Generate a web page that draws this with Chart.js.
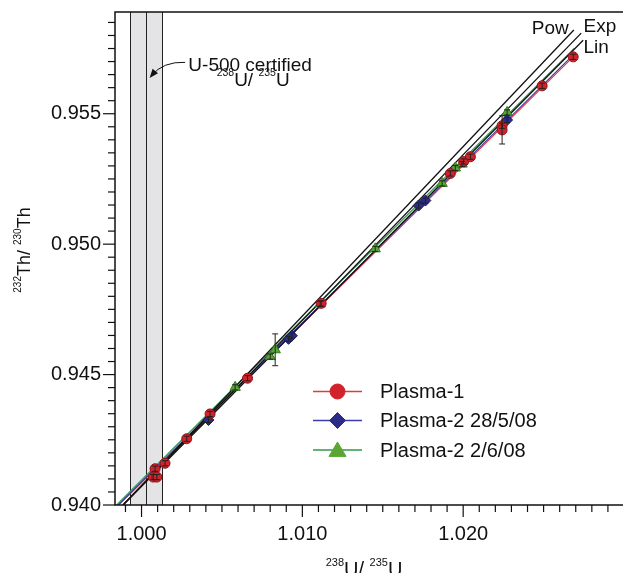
<!DOCTYPE html>
<html>
<head>
<meta charset="utf-8">
<script src="https://cdn.jsdelivr.net/npm/chart.js@4/dist/chart.umd.min.js"></script>
<style>
  html, body { margin: 0; padding: 0; background: #fff; overflow: hidden; }
  #wrap { width: 626px; height: 573px; }
</style>
</head>
<body>
<div id="wrap"><canvas id="thChart" width="626" height="573"></canvas></div>
<script>
// Plasma-1 measurements (238U/235U vs 232Th/230Th) with 2-sigma errors on Th
const plasma1X = [1.00084, 1.00073, 1.00095, 1.00146, 1.00281, 1.00426, 1.00659, 1.01117, 1.01920, 1.02003, 1.02045, 1.02242, 1.02242, 1.02491, 1.02684];
const plasma1Y = [0.94139, 0.94107, 0.94107, 0.94160, 0.94254, 0.94349, 0.94486, 0.94773, 0.95271, 0.95317, 0.95335, 0.95454, 0.95438, 0.95607, 0.95718];
const plasma1Err = [0.0001, 0.0001, 0.0001, 0.0001, 0.0001, 0.0001, 0.0001, 0.0001, 0.0001, 0.0001, 0.0001, 0.0001, 0.00054, 0.0001, 0.0001];

// Plasma-2, session 28/5/08
const plasma2aX = [1.00416, 1.00914, 1.00935, 1.01723, 1.01765, 1.02273];
const plasma2aY = [0.94326, 0.94637, 0.94649, 0.95148, 0.95167, 0.95476];
const plasma2aErr = [0.0001, 0.0001, 0.0001, 0.0001, 0.0001, 0.0001];

// Plasma-2, session 2/6/08
const plasma2bX = [1.00582, 1.00800, 1.00831, 1.01111, 1.01453, 1.01869, 1.01951, 1.01993, 1.02273];
const plasma2bY = [0.94451, 0.94569, 0.94595, 0.94771, 0.94982, 0.95233, 0.95292, 0.95307, 0.95505];
const plasma2bErr = [0.0001, 0.0001, 0.00061, 0.0001, 0.0001, 0.0001, 0.0001, 0.0001, 0.0001];

// regression lines through each session (end points)
const fit1X = [0.99858, 1.02690], fit1Y = [0.940, 0.95722];
const fit2aX = [0.99855, 1.02700], fit2aY = [0.940, 0.95735];
const fit2bX = [0.99845, 1.02690], fit2bY = [0.940, 0.95750];

// mass bias laws: power, exponential, linear
const powX = [0.99885, 1.02688], powY = [0.940, 0.95821];
const expX = [0.99885, 1.02734], expY = [0.940, 0.95809];
const linX = [0.99885, 1.02746], linY = [0.940, 0.95782];

// U-500 certified 238U/235U and its uncertainty
const certMid = 1.0003, certLo = 0.9993, certHi = 1.0013;

const xMin = 0.99835, xMax = 1.030;
const yMin = 0.940, yMax = 0.9589;

const FONT = '"Liberation Sans", Arial, Helvetica, sans-serif';

function zip(xs, ys) { return xs.map((v, i) => ({ x: v, y: ys[i] })); }

const series = [
  { label: 'Plasma-1', x: plasma1X, y: plasma1Y, err: plasma1Err, style: 'circle', r: 5,
    fill: '#d1232b', edge: '#8e1218', line: '#e03a3a' },
  { label: 'Plasma-2 28/5/08', x: plasma2aX, y: plasma2aY, err: plasma2aErr, style: 'rectRot', r: 5.5,
    fill: '#2b2b88', edge: '#1a1a55', line: '#3c3ca8' },
  { label: 'Plasma-2 2/6/08', x: plasma2bX, y: plasma2bY, err: plasma2bErr, style: 'triangle', r: 6,
    fill: '#5aa633', edge: '#2f7a1e', line: '#2e9a4e' },
];

function lineSet(xs, ys, color, w) {
  return { data: zip(xs, ys), showLine: true, pointRadius: 0, borderColor: color,
           borderWidth: w, fill: false, order: 2 };
}

const datasets = [
  lineSet(powX, powY, '#111', 1.3),
  lineSet(expX, expY, '#111', 1.3),
  lineSet(linX, linY, '#111', 1.3),
  lineSet(fit2bX, fit2bY, series[2].line, 1.2),
  lineSet(fit2aX, fit2aY, series[1].line, 1.2),
  lineSet(fit1X, fit1Y, series[0].line, 1.2),
];
series.forEach(s => {
  datasets.push({
    label: s.label, data: zip(s.x, s.y), showLine: false, pointStyle: s.style,
    pointRadius: s.r, backgroundColor: s.fill, borderColor: s.edge, borderWidth: 1, order: 1
  });
});

// text with superscript pieces: [['232', true], ['Th/ ', false], ...]
function richWidth(ctx, parts, big, small) {
  let w = 0;
  parts.forEach(([t, sup]) => { ctx.font = (sup ? small : big) + 'px ' + FONT; w += ctx.measureText(t).width; });
  return w;
}
function drawRich(ctx, parts, x, y, big, small, align) {
  let cx = align === 'center' ? x - richWidth(ctx, parts, big, small) / 2 : x;
  parts.forEach(([t, sup]) => {
    ctx.font = (sup ? small : big) + 'px ' + FONT;
    ctx.fillText(t, cx, sup ? y - big * 0.5 : y);
    cx += ctx.measureText(t).width;
  });
}

function drawMarker(ctx, style, x, y, r, fill, edge) {
  ctx.beginPath();
  if (style === 'circle') {
    ctx.arc(x, y, r, 0, Math.PI * 2);
  } else if (style === 'rectRot') {
    ctx.moveTo(x, y - r); ctx.lineTo(x + r, y); ctx.lineTo(x, y + r); ctx.lineTo(x - r, y);
  } else {
    ctx.moveTo(x, y - r); ctx.lineTo(x + r * 0.95, y + r * 0.6); ctx.lineTo(x - r * 0.95, y + r * 0.6);
  }
  ctx.closePath();
  ctx.fillStyle = fill; ctx.fill();
  ctx.strokeStyle = edge; ctx.lineWidth = 1; ctx.stroke();
}

// keep the plot box fixed: no label overhang padding from the scales
function noOverhang(scale) {
  scale.paddingLeft = 0; scale.paddingRight = 0;
  scale.paddingTop = 0; scale.paddingBottom = 0;
}

const decor = {
  id: 'decor',
  beforeDatasetsDraw(chart) {
    const { ctx, chartArea: a, scales: { x } } = chart;
    const b0 = x.getPixelForValue(certLo), b1 = x.getPixelForValue(certHi), bc = x.getPixelForValue(certMid);
    ctx.save();
    ctx.fillStyle = '#e4e4e6';
    ctx.fillRect(b0, a.top, b1 - b0, a.bottom - a.top);
    ctx.strokeStyle = '#222';
    ctx.lineWidth = 1;
    [b0, bc, b1].forEach(p => {
      ctx.beginPath(); ctx.moveTo(Math.round(p) + 0.5, a.top); ctx.lineTo(Math.round(p) + 0.5, a.bottom); ctx.stroke();
    });
    ctx.restore();
  },
  afterDatasetsDraw(chart) {
    // error bars
    const { ctx, scales: { x, y } } = chart;
    ctx.save();
    ctx.strokeStyle = '#222';
    ctx.lineWidth = 1;
    series.forEach(s => {
      s.x.forEach((xv, i) => {
        const px = x.getPixelForValue(xv);
        const lo = y.getPixelForValue(s.y[i] - s.err[i]);
        const hi = y.getPixelForValue(s.y[i] + s.err[i]);
        ctx.beginPath();
        ctx.moveTo(px, lo); ctx.lineTo(px, hi);
        ctx.moveTo(px - 3, lo); ctx.lineTo(px + 3, lo);
        ctx.moveTo(px - 3, hi); ctx.lineTo(px + 3, hi);
        ctx.stroke();
      });
    });
    ctx.restore();
  },
  afterDraw(chart) {
    const { ctx, chartArea: a, scales: { x, y } } = chart;
    ctx.save();
    ctx.strokeStyle = '#111';
    ctx.fillStyle = '#111';

    // frame
    ctx.lineWidth = 1.5;
    ctx.strokeRect(a.left, a.top, a.right - a.left, a.bottom - a.top);

    // tick marks, long ones on labelled values
    ctx.lineWidth = 1.2;
    for (let k = Math.ceil(xMin / 0.001 - 1e-6); k <= Math.floor(xMax / 0.001 + 1e-6); k++) {
      const p = x.getPixelForValue(k * 0.001);
      const len = k % 10 === 0 ? 12 : 7;
      ctx.beginPath(); ctx.moveTo(p, a.bottom); ctx.lineTo(p, a.bottom + len); ctx.stroke();
    }
    for (let k = Math.ceil(yMin / 0.0005 - 1e-6); k <= Math.floor(yMax / 0.0005 + 1e-6); k++) {
      const p = y.getPixelForValue(k * 0.0005);
      const len = k % 10 === 0 ? 12 : 7;
      ctx.beginPath(); ctx.moveTo(a.left, p); ctx.lineTo(a.left - len, p); ctx.stroke();
    }

    // axis titles
    ctx.textBaseline = 'alphabetic';
    ctx.textAlign = 'left';
    drawRich(ctx, [['238', true], ['U/ ', false], ['235', true], ['U', false]], 364, 575.5, 20, 11, 'center');
    ctx.save();
    ctx.translate(29.5, 250);
    ctx.rotate(-Math.PI / 2);
    drawRich(ctx, [['232', true], ['Th/ ', false], ['230', true], ['Th', false]], 0, 0, 18, 10, 'center');
    ctx.restore();

    // certified value note with arrow
    ctx.font = '19px ' + FONT;
    ctx.fillText('U-500 certified', x.getPixelForValue(1.00291), y.getPixelForValue(0.95665));
    drawRich(ctx, [['238', true], ['U/ ', false], ['235', true], ['U', false]],
             x.getPixelForValue(1.00694), y.getPixelForValue(0.95607), 19, 10.5, 'center');
    const sx = x.getPixelForValue(1.00271), sy = y.getPixelForValue(0.95697);
    const ex = x.getPixelForValue(1.00062), ey = y.getPixelForValue(0.95646);
    const cx = sx - 22, cy = sy - 1;
    ctx.lineWidth = 1;
    ctx.beginPath(); ctx.moveTo(sx, sy); ctx.quadraticCurveTo(cx, cy, ex, ey); ctx.stroke();
    const ang = Math.atan2(ey - cy, ex - cx);
    ctx.beginPath();
    ctx.moveTo(ex + Math.cos(ang) * 3, ey + Math.sin(ang) * 3);
    ctx.lineTo(ex - Math.cos(ang) * 6 - Math.sin(ang) * 3.5, ey - Math.sin(ang) * 6 + Math.cos(ang) * 3.5);
    ctx.lineTo(ex - Math.cos(ang) * 6 + Math.sin(ang) * 3.5, ey - Math.sin(ang) * 6 - Math.cos(ang) * 3.5);
    ctx.closePath(); ctx.fill();

    // law labels
    ctx.font = '19px ' + FONT;
    ctx.textAlign = 'right';
    ctx.fillText('Pow', x.getPixelForValue(1.02656), y.getPixelForValue(0.95805));
    ctx.textAlign = 'left';
    ctx.fillText('Exp', x.getPixelForValue(1.02748), y.getPixelForValue(0.95812));
    ctx.fillText('Lin', x.getPixelForValue(1.02748), y.getPixelForValue(0.95731));

    // legend
    const lx0 = 313, lx1 = 362, tx = 380;
    const rows = [391.5, 420.5, 450];
    series.forEach((s, i) => {
      const ry = rows[i];
      ctx.strokeStyle = s.line; ctx.lineWidth = 1.5;
      ctx.beginPath(); ctx.moveTo(lx0, ry); ctx.lineTo(lx1, ry); ctx.stroke();
      const mr = s.style === 'circle' ? 7.5 : (s.style === 'rectRot' ? 8 : 9);
      drawMarker(ctx, s.style, (lx0 + lx1) / 2, s.style === 'triangle' ? ry + 1 : ry, mr, s.fill, s.fill);
      ctx.fillStyle = '#111';
      ctx.font = '20px ' + FONT;
      ctx.fillText(s.label, tx, ry + 6.5);
    });
    ctx.restore();
  }
};

new Chart(document.getElementById('thChart'), {
  type: 'scatter',
  data: { datasets: datasets },
  options: {
    responsive: false,
    animation: false,
    devicePixelRatio: 1,
    layout: { autoPadding: false, padding: { top: 12, right: 2, left: 0, bottom: 0 } },
    plugins: { legend: { display: false }, tooltip: { enabled: false } },
    scales: {
      x: {
        type: 'linear', min: xMin, max: xMax,
        afterFit(scale) { scale.height = 68; noOverhang(scale); },
        border: { display: false },
        grid: { display: false, drawTicks: false },
        ticks: {
          stepSize: 0.01, includeBounds: false, autoSkip: false, maxRotation: 0, padding: 17,
          color: '#111', font: { family: FONT, size: 20 },
          callback: v => (v > 1.025 ? '' : v.toFixed(3))
        }
      },
      y: {
        type: 'linear', min: yMin, max: yMax,
        afterFit(scale) { scale.width = 115; noOverhang(scale); },
        border: { display: false },
        grid: { display: false, drawTicks: false },
        ticks: {
          stepSize: 0.005, includeBounds: false, autoSkip: false, padding: 14,
          color: '#111', font: { family: FONT, size: 20 },
          callback: v => v.toFixed(3)
        }
      }
    }
  },
  plugins: [decor]
});
</script>
</body>
</html>
